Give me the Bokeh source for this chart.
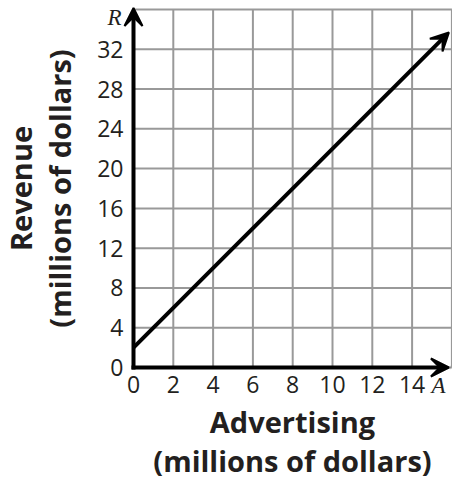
from bokeh.plotting import figure
from bokeh.models import (Range1d, FixedTicker, Arrow, VeeHead, Label, ColumnDataSource)
from bokeh.embed import file_html
from bokeh.resources import INLINE

# Data
advertising = [0, 15.85]          # A (millions of dollars)
revenue = [2, 33.7]               # R = 2A + 2 (millions of dollars)
x_ticks = [0, 2, 4, 6, 8, 10, 12, 14]
y_ticks = [0, 4, 8, 12, 16, 20, 24, 28, 32]
x_grid = [0, 2, 4, 6, 8, 10, 12, 14, 16]
y_grid = [0, 4, 8, 12, 16, 20, 24, 28, 32, 36]
x_max, y_max = 16, 36

W, H = 452, 482
kx, ky = 19.9, 358 / 36.0
x0_px, ytop_px = 133, 9
xs = -x0_px / kx
ye = y_max + ytop_px / ky
p = figure(width=W, height=H, output_backend="svg", toolbar_location=None,
           x_range=Range1d(xs, xs + W / kx), y_range=Range1d(ye - H / ky, ye),
           min_border=0)
p.outline_line_color = None
p.grid.visible = False

TXT = "#231f20"
for ax, tk, b in ((p.xaxis[0], x_ticks, (0, x_max)), (p.yaxis[0], y_ticks, (0, y_max))):
    ax.fixed_location = 0
    ax.bounds = b
    ax.ticker = FixedTicker(ticks=tk)
    ax.axis_line_color = None
    ax.major_tick_line_color = None
    ax.minor_tick_line_color = None
    ax.major_tick_out = 0
    ax.major_tick_in = 0
    ax.minor_tick_out = 0
    ax.major_label_text_font = "Open Sans"
    ax.major_label_text_font_size = "23px"
    ax.major_label_text_color = TXT
    ax.axis_label_text_font = "Open Sans"
    ax.axis_label_text_font_style = "bold"
    ax.axis_label_text_font_size = "29px"
    ax.axis_label_text_color = TXT
    ax.axis_label_text_line_height = 1.0

p.xaxis[0].axis_label = "Advertising\n(millions of dollars)"
p.yaxis[0].axis_label = "Revenue\n(millions of dollars)"
p.xaxis[0].major_label_standoff = 8
p.yaxis[0].major_label_standoff = 10
p.xaxis[0].axis_label_standoff = 6
p.yaxis[0].axis_label_standoff = 15

# grid drawn from the grid tick lists
GRID = "#999999"
p.segment(x0=x_grid, y0=[0] * len(x_grid), x1=x_grid, y1=[y_max] * len(x_grid),
          line_color=GRID, line_width=2)
p.segment(x0=[0] * len(y_grid), y0=y_grid, x1=[x_max] * len(y_grid), y1=y_grid,
          line_color=GRID, line_width=2)

def head():
    return VeeHead(size=18, fill_color="black", line_color="black", line_width=2)

# axis arrows
p.add_layout(Arrow(x_start=0, y_start=0, x_end=0, y_end=y_max + 0.15,
                   line_width=4, line_color="black", line_cap="square", end=head()))
p.add_layout(Arrow(x_start=0, y_start=0, x_end=x_max - 0.15, y_end=0,
                   line_width=4, line_color="black", line_cap="square", end=head()))

# revenue line
src = ColumnDataSource(dict(xs=[advertising[0]], ys=[revenue[0]],
                            xe=[advertising[1]], ye=[revenue[1]]))
p.add_layout(Arrow(x_start="xs", y_start="ys", x_end="xe", y_end="ye", source=src,
                   line_width=4, line_color="black", end=head()))

p.add_layout(Label(x=-0.95, y=35.2, text="R", text_font="Liberation Serif",
                   text_font_style="italic", text_font_size="23px", text_color=TXT,
                   text_align="center", text_baseline="middle"))
p.add_layout(Label(x=15.33, y=-1.81, text="A", text_font="Liberation Serif",
                   text_font_style="italic", text_font_size="23px", text_color=TXT,
                   text_align="center", text_baseline="middle"))

open("out.html", "w").write(file_html(p, INLINE))
